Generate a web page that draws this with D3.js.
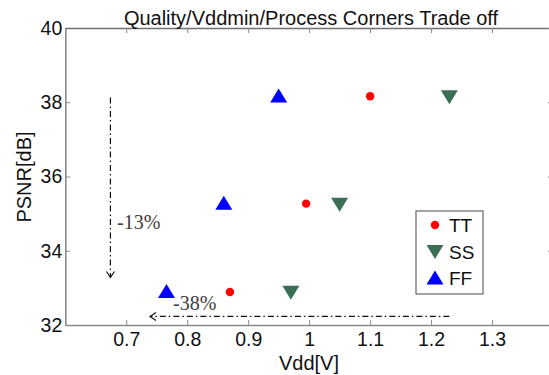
<!DOCTYPE html>
<html>
<head>
<meta charset="utf-8">
<script src="https://cdn.jsdelivr.net/npm/d3@7"></script>
<style>
  body { margin: 0; background: #fff; }
  svg { display: block; }
</style>
</head>
<body>
<div id="chart"></div>
<script>
////////////////////////////// data //////////////////////////////

const corners = ["TT", "SS", "FF"];
const ttVdd = [1.10, 0.995, 0.87];
const ttPsnr = [38.16, 35.27, 32.89];
const ssVdd = [1.23, 1.05, 0.97];
const ssPsnr = [38.15, 35.25, 32.88];
const ffVdd = [0.95, 0.86, 0.766];
const ffPsnr = [38.17, 35.28, 32.90];

const xTicks = [0.7, 0.8, 0.9, 1.0, 1.1, 1.2, 1.3];
const yTicks = [32, 34, 36, 38, 40];

// annotation arrows: [x1, y1, x2, y2] in data units
const vArrow = [0.674, 38.13, 0.674, 33.28];
const hArrow = [1.23, 32.23, 0.739, 32.23];

////////////////////////////// setup //////////////////////////////

const width = 549, height = 375;
const margin = { top: 28, right: -4, bottom: 50, left: 65.3 };

const svg = d3.select("#chart").append("svg")
  .attr("width", width).attr("height", height);

const x = d3.scaleLinear().domain([0.6, 1.4]).range([margin.left, width - margin.right]);
const y = d3.scaleLinear().domain([32, 40]).range([height - margin.bottom, margin.top]);

const axisCol = "#8a8a8a";
const sans = "'Liberation Sans', Arial, sans-serif";
const serif = "'Liberation Serif', 'Times New Roman', serif";

////////////////////////////// axes //////////////////////////////

const gBottom = svg.append("g").attr("transform", `translate(0,${y(32)})`)
  .call(d3.axisBottom(x).tickValues(xTicks).tickSizeInner(-5).tickSizeOuter(0)
    .tickFormat(d => d === 1 ? "1" : d3.format(".1f")(d)));
const gLeft = svg.append("g").attr("transform", `translate(${x(0.6)},0)`)
  .call(d3.axisLeft(y).tickValues(yTicks).tickSizeInner(-5).tickSizeOuter(0).tickPadding(3));
const gTop = svg.append("g").attr("transform", `translate(0,${y(40)})`)
  .call(d3.axisTop(x).tickValues(xTicks).tickSizeInner(-5).tickSizeOuter(0).tickFormat(""));
const gRight = svg.append("g").attr("transform", `translate(${x(1.4)},0)`)
  .call(d3.axisRight(y).tickValues(yTicks).tickSizeInner(-5).tickSizeOuter(0).tickFormat(""));

[gBottom, gLeft, gTop, gRight].forEach(g => {
  g.select(".domain").attr("stroke", axisCol).attr("stroke-width", 1.6);
  g.selectAll(".tick line").attr("stroke", axisCol).attr("stroke-width", 1);
  g.selectAll("text").attr("font-family", sans).attr("font-size", 19.5).attr("fill", "#111");
});
gBottom.selectAll(".tick text").attr("y", 21).attr("dy", 0);
gTop.select(".domain").attr("stroke", "#707070");

////////////////////////////// labels //////////////////////////////

svg.append("text").attr("x", 311).attr("y", 25).attr("text-anchor", "middle")
  .attr("font-family", sans).attr("font-size", 20).attr("fill", "#111")
  .text("Quality/Vddmin/Process Corners Trade off");

svg.append("text").attr("x", 309).attr("y", 370).attr("text-anchor", "middle")
  .attr("font-family", sans).attr("font-size", 20).attr("fill", "#111")
  .text("Vdd[V]");

svg.append("text").attr("transform", "translate(31,177) rotate(-90)").attr("text-anchor", "middle")
  .attr("font-family", sans).attr("font-size", 20).attr("fill", "#111")
  .text("PSNR[dB]");

////////////////////////////// annotations //////////////////////////////

const dash = "6,3,1.5,3";
const drawArrow = (a, dir) => {
  svg.append("line")
    .attr("x1", x(a[0])).attr("y1", y(a[1])).attr("x2", x(a[2])).attr("y2", y(a[3]))
    .attr("stroke", "#111").attr("stroke-width", 1.2).attr("stroke-dasharray", dash);
  const ex = x(a[2]), ey = y(a[3]);
  const p = dir === "down"
    ? `M${ex - 4},${ey - 6}L${ex},${ey}L${ex + 4},${ey - 6}`
    : `M${ex + 6},${ey - 4}L${ex},${ey}L${ex + 6},${ey + 4}`;
  svg.append("path").attr("d", p).attr("fill", "none").attr("stroke", "#111").attr("stroke-width", 1.2);
};
drawArrow(vArrow, "down");
drawArrow(hArrow, "left");

svg.append("text").attr("x", 117).attr("y", 229)
  .attr("font-family", serif).attr("font-size", 20).attr("fill", "#404040").text("-13%");
svg.append("text").attr("x", 173).attr("y", 310)
  .attr("font-family", serif).attr("font-size", 20).attr("fill", "#404040").text("-38%");

////////////////////////////// points //////////////////////////////

const colors = { TT: "#ff0000", SS: "#3b6e55", FF: "#0000ff" };
const triUp = (cx, cy) => `M${cx - 8.5},${cy + 6.5}L${cx + 8.5},${cy + 6.5}L${cx},${cy - 7.5}Z`;
const triDown = (cx, cy) => `M${cx - 8.5},${cy - 6.5}L${cx + 8.5},${cy - 6.5}L${cx},${cy + 7.5}Z`;

const tt = ttVdd.map((v, i) => ({ v, p: ttPsnr[i] }));
const ss = ssVdd.map((v, i) => ({ v, p: ssPsnr[i] }));
const ff = ffVdd.map((v, i) => ({ v, p: ffPsnr[i] }));

svg.selectAll("circle.tt").data(tt).enter().append("circle").attr("class", "tt")
  .attr("cx", d => x(d.v)).attr("cy", d => y(d.p)).attr("r", 4.2).attr("fill", colors.TT);
svg.selectAll("path.ss").data(ss).enter().append("path").attr("class", "ss")
  .attr("d", d => triDown(x(d.v), y(d.p))).attr("fill", colors.SS);
svg.selectAll("path.ff").data(ff).enter().append("path").attr("class", "ff")
  .attr("d", d => triUp(x(d.v), y(d.p))).attr("fill", colors.FF);

////////////////////////////// legend //////////////////////////////

const lg = svg.append("g").attr("transform", "translate(416,211)");
lg.append("rect").attr("width", 67).attr("height", 83).attr("fill", "#fff")
  .attr("stroke", "#666").attr("stroke-width", 1.2);
corners.forEach((c, i) => {
  const cy = 14 + i * 26.5;
  if (c === "TT") lg.append("circle").attr("cx", 19).attr("cy", cy).attr("r", 4.2).attr("fill", colors.TT);
  else if (c === "SS") lg.append("path").attr("d", triDown(19, cy)).attr("fill", colors.SS);
  else lg.append("path").attr("d", triUp(19, cy)).attr("fill", colors.FF);
  lg.append("text").attr("x", 33).attr("y", cy + 7)
    .attr("font-family", sans).attr("font-size", 19).attr("fill", "#111").text(c);
});
</script>
</body>
</html>
